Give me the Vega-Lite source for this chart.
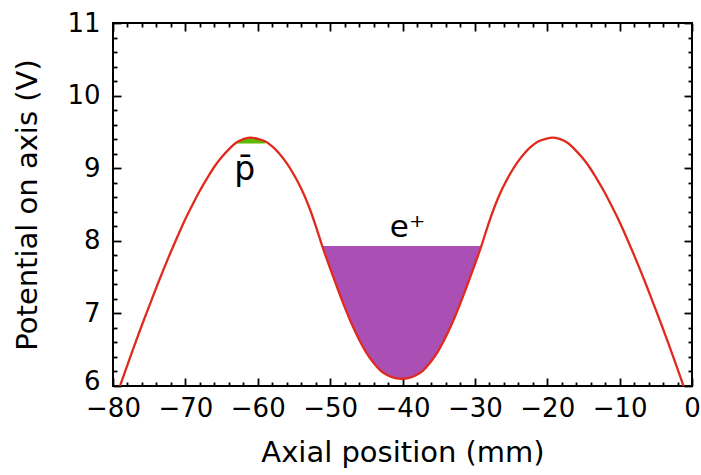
{
  "$schema": "https://vega.github.io/schema/vega-lite/v6.json",
  "width": 579,
  "height": 363,
  "autosize": {"type": "none"},
  "padding": {"left": 113, "top": 23, "right": 9, "bottom": 89},
  "background": "white",
  "config": {
    "view": {"stroke": "black", "strokeWidth": 2},
    "font": "DejaVu Sans",
    "axis": {"grid": false, "domain": false, "labelFont": "DejaVu Sans", "titleFont": "DejaVu Sans", "labelColor": "black", "titleColor": "black", "tickColor": "black", "titleFontWeight": "normal"}
  },
  "datasets": {
    "curve": [
      {"x": -80, "v": 5.72}, {"x": -79, "v": 6.01}, {"x": -78, "v": 6.29}, {"x": -77, "v": 6.57},
      {"x": -76, "v": 6.84}, {"x": -75, "v": 7.10}, {"x": -74, "v": 7.36}, {"x": -73, "v": 7.61},
      {"x": -72, "v": 7.85}, {"x": -71, "v": 8.08}, {"x": -70, "v": 8.30}, {"x": -69, "v": 8.50},
      {"x": -68, "v": 8.69}, {"x": -67, "v": 8.86}, {"x": -66, "v": 9.02}, {"x": -65, "v": 9.15},
      {"x": -64, "v": 9.26}, {"x": -63, "v": 9.35}, {"x": -62, "v": 9.40}, {"x": -61.1, "v": 9.42},
      {"x": -60, "v": 9.405}, {"x": -59, "v": 9.37}, {"x": -58, "v": 9.30}, {"x": -57, "v": 9.20},
      {"x": -56, "v": 9.07}, {"x": -55, "v": 8.91}, {"x": -54, "v": 8.72}, {"x": -53, "v": 8.49},
      {"x": -52, "v": 8.21}, {"x": -51.1, "v": 7.93}, {"x": -50, "v": 7.62}, {"x": -49, "v": 7.35},
      {"x": -48, "v": 7.09}, {"x": -47, "v": 6.85}, {"x": -46, "v": 6.64}, {"x": -45, "v": 6.46},
      {"x": -44, "v": 6.32}, {"x": -43, "v": 6.21}, {"x": -42, "v": 6.145}, {"x": -41, "v": 6.11},
      {"x": -40.1, "v": 6.10},
      {"x": -39.2, "v": 6.11}, {"x": -38.2, "v": 6.145}, {"x": -37.2, "v": 6.21}, {"x": -36.2, "v": 6.32},
      {"x": -35.2, "v": 6.46}, {"x": -34.2, "v": 6.64}, {"x": -33.2, "v": 6.85}, {"x": -32.2, "v": 7.09},
      {"x": -31.2, "v": 7.35}, {"x": -30.2, "v": 7.62}, {"x": -29.1, "v": 7.93}, {"x": -28.2, "v": 8.21},
      {"x": -27.2, "v": 8.49}, {"x": -26.2, "v": 8.72}, {"x": -25.2, "v": 8.91}, {"x": -24.2, "v": 9.07},
      {"x": -23.2, "v": 9.20}, {"x": -22.2, "v": 9.30}, {"x": -21.2, "v": 9.37}, {"x": -20.2, "v": 9.405},
      {"x": -19.1, "v": 9.42}, {"x": -18.2, "v": 9.40}, {"x": -17.2, "v": 9.35}, {"x": -16.2, "v": 9.26},
      {"x": -15.2, "v": 9.15}, {"x": -14.2, "v": 9.02}, {"x": -13.2, "v": 8.86}, {"x": -12.2, "v": 8.69},
      {"x": -11.2, "v": 8.50}, {"x": -10.2, "v": 8.30}, {"x": -9.2, "v": 8.08}, {"x": -8.2, "v": 7.85},
      {"x": -7.2, "v": 7.61}, {"x": -6.2, "v": 7.36}, {"x": -5.2, "v": 7.10}, {"x": -4.2, "v": 6.84},
      {"x": -3.2, "v": 6.57}, {"x": -2.2, "v": 6.29}, {"x": -1.2, "v": 6.01}, {"x": -0.2, "v": 5.72}
    ],
    "labels": [
      {"x": -39.3, "v": 8.05, "label": "e⁺"},
      {"x": -61.8, "v": 8.84, "label": "p̄"}
    ]
  },
  "resolve": {"axis": {"x": "independent", "y": "independent"}},
  "encoding": {
    "x": {"field": "x", "type": "quantitative", "scale": {"domain": [-80, 0], "nice": false, "zero": false}},
    "y": {"field": "v", "type": "quantitative", "scale": {"domain": [6, 11], "nice": false, "zero": false}}
  },
  "layer": [
    {
      "data": {"name": "curve"},
      "transform": [{"filter": "datum.x >= -51.1 && datum.x <= -29.1"}],
      "mark": {"type": "area", "color": "#aa50b5", "interpolate": "catmull-rom", "opacity": 1},
      "encoding": {
        "x": {"field": "x", "type": "quantitative", "axis": {"orient": "bottom", "labels": false, "ticks": true, "tickSize": -8, "tickWidth": 1.8, "values": [-80, -70, -60, -50, -40, -30, -20, -10, 0], "title": null}},
        "y": {"field": "v", "type": "quantitative", "axis": {"orient": "left", "labels": false, "ticks": true, "tickSize": -8, "tickWidth": 1.8, "values": [6, 7, 8, 9, 10, 11], "title": null}},
        "y2": {"datum": 7.93}
      }
    },
    {
      "data": {"name": "curve"},
      "transform": [{"filter": "datum.x >= -63 && datum.x <= -59"}],
      "mark": {"type": "area", "color": "#5cb800", "interpolate": "catmull-rom", "opacity": 1},
      "encoding": {
        "x": {"field": "x", "type": "quantitative", "axis": {"orient": "bottom", "labels": false, "ticks": true, "tickSize": -4, "tickWidth": 1.8, "values": [-78, -76, -74, -72, -68, -66, -64, -62, -58, -56, -54, -52, -48, -46, -44, -42, -38, -36, -34, -32, -28, -26, -24, -22, -18, -16, -14, -12, -8, -6, -4, -2], "title": null}},
        "y": {"field": "v", "type": "quantitative", "axis": {"orient": "left", "labels": false, "ticks": true, "tickSize": -4, "tickWidth": 1.8, "values": [6.2, 6.4, 6.6, 6.8, 7.2, 7.4, 7.6, 7.8, 8.2, 8.4, 8.6, 8.8, 9.2, 9.4, 9.6, 9.8, 10.2, 10.4, 10.6, 10.8], "title": null}},
        "y2": {"datum": 9.34}
      }
    },
    {
      "data": {"name": "curve"},
      "mark": {"type": "line", "color": "#e02a1e", "strokeWidth": 2.3, "interpolate": "catmull-rom", "clip": true},
      "encoding": {
        "x": {"field": "x", "type": "quantitative", "axis": {"orient": "bottom", "labels": true, "ticks": false, "labelFontSize": 26, "labelPadding": 9, "values": [-80, -70, -60, -50, -40, -30, -20, -10, 0], "labelFlush": false, "labelOverlap": false, "title": "Axial position (mm)", "titleFontSize": 29, "titlePadding": 17}},
        "y": {"field": "v", "type": "quantitative", "axis": {"orient": "left", "labels": true, "ticks": false, "labelFontSize": 26, "labelPadding": 13, "labelOffset": {"condition": {"test": "datum.value == 6", "value": -5}, "value": 0}, "values": [6, 7, 8, 9, 10, 11], "labelFlush": false, "labelOverlap": false, "title": "Potential on axis (V)", "titleFontSize": 29, "titlePadding": 24}}
      }
    },
    {
      "data": {"name": "labels"},
      "transform": [{"filter": "datum.label == 'e⁺'"}],
      "mark": {"type": "text", "fontSize": 31, "align": "center", "baseline": "alphabetic", "color": "black", "font": "DejaVu Sans"},
      "encoding": {
        "text": {"field": "label"},
        "x": {"field": "x", "type": "quantitative", "axis": {"orient": "top", "labels": false, "ticks": true, "tickSize": -8, "tickWidth": 1.8, "values": [-80, -70, -60, -50, -40, -30, -20, -10, 0], "title": null}},
        "y": {"field": "v", "type": "quantitative", "axis": {"orient": "right", "labels": false, "ticks": true, "tickSize": -8, "tickWidth": 1.8, "values": [6, 7, 8, 9, 10, 11], "title": null}}
      }
    },
    {
      "data": {"name": "labels"},
      "transform": [{"filter": "datum.label != 'e⁺'"}],
      "mark": {"type": "text", "fontSize": 33, "align": "center", "baseline": "alphabetic", "color": "black", "font": "DejaVu Sans"},
      "encoding": {
        "text": {"field": "label"},
        "x": {"field": "x", "type": "quantitative", "axis": {"orient": "top", "labels": false, "ticks": true, "tickSize": -4, "tickWidth": 1.8, "values": [-78, -76, -74, -72, -68, -66, -64, -62, -58, -56, -54, -52, -48, -46, -44, -42, -38, -36, -34, -32, -28, -26, -24, -22, -18, -16, -14, -12, -8, -6, -4, -2], "title": null}},
        "y": {"field": "v", "type": "quantitative", "axis": {"orient": "right", "labels": false, "ticks": true, "tickSize": -4, "tickWidth": 1.8, "values": [6.2, 6.4, 6.6, 6.8, 7.2, 7.4, 7.6, 7.8, 8.2, 8.4, 8.6, 8.8, 9.2, 9.4, 9.6, 9.8, 10.2, 10.4, 10.6, 10.8], "title": null}}
      }
    }
  ]
}
